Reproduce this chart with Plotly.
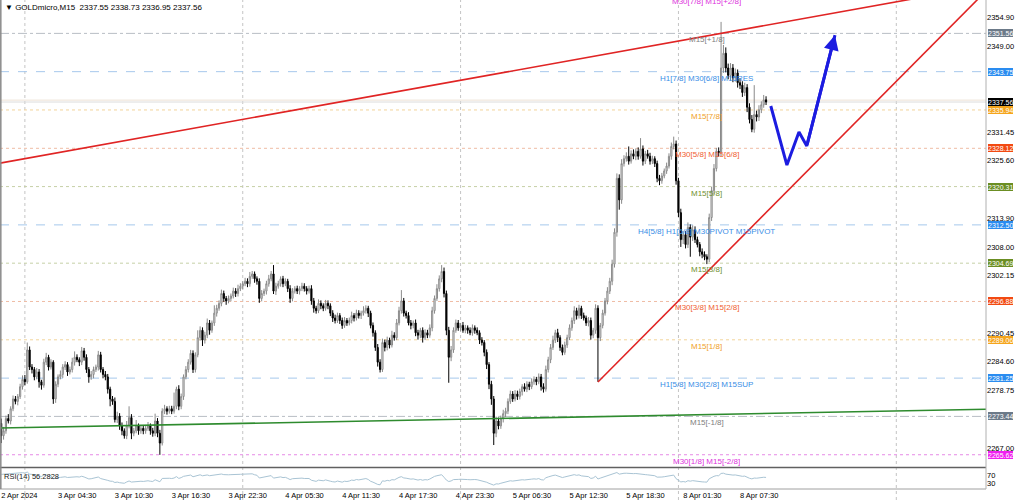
import numpy as np
import plotly.graph_objects as go

# ---------------- data ----------------
first_open = 2272.0
closes = [
    2269.5, 2270.5, 2273.0, 2272.5, 2275.0, 2277.0, 2276.5, 2277.5, 2279.5, 2281.0, 2280.5, 2287.0,
    2283.5, 2283.0, 2281.5, 2282.5, 2280.5, 2279.8, 2284.5, 2285.5, 2283.5, 2284.5, 2277.0, 2280.0,
    2281.5, 2282.0, 2283.5, 2284.0, 2282.5, 2283.0, 2284.5, 2285.5, 2285.0, 2284.5, 2286.8, 2285.5,
    2283.0, 2281.5, 2282.0, 2283.0, 2283.5, 2286.0, 2283.0, 2282.0, 2281.5, 2279.0, 2277.0, 2276.5,
    2272.8, 2273.5, 2271.5, 2270.5, 2269.5, 2271.5, 2273.2, 2270.0, 2270.5, 2271.5, 2270.5, 2271.0,
    2270.5, 2271.0, 2271.5, 2270.5, 2270.0, 2272.5, 2270.0, 2268.0, 2274.5, 2275.0, 2274.5, 2275.0,
    2274.5, 2275.5, 2279.0, 2275.5, 2277.5, 2281.5, 2283.0, 2284.5, 2286.3, 2283.0, 2286.0, 2289.5,
    2291.0, 2289.0, 2290.0, 2292.5, 2291.0, 2292.5, 2294.5, 2295.5, 2296.5, 2298.5, 2297.5, 2297.0,
    2297.5, 2298.0, 2299.0, 2298.5, 2299.5, 2300.0, 2300.5, 2301.0, 2300.5, 2302.0, 2302.5, 2301.5,
    2301.0, 2297.5, 2298.5, 2299.0, 2300.5, 2301.5, 2302.5, 2299.0, 2300.0, 2300.5, 2301.5, 2300.5,
    2301.0, 2299.5, 2297.5, 2299.0, 2299.5, 2299.0, 2299.5, 2300.0, 2299.5, 2299.0, 2299.5, 2297.0,
    2295.5, 2295.0, 2296.5, 2296.0, 2295.5, 2296.5, 2296.0, 2294.5, 2293.5, 2293.0, 2294.0, 2293.0,
    2292.0, 2293.0, 2292.5, 2293.0, 2294.0, 2293.5, 2294.5, 2294.0, 2294.5, 2295.0, 2295.5, 2294.5,
    2292.0, 2290.5, 2287.5, 2284.5, 2283.0, 2288.5, 2287.5, 2289.0, 2288.0, 2290.0, 2289.5, 2292.5,
    2295.0, 2297.0, 2294.5, 2294.0, 2292.5, 2292.0, 2292.5, 2290.5, 2290.0, 2291.0, 2289.5, 2290.5,
    2290.0, 2291.5, 2295.0, 2297.5, 2299.5, 2301.5, 2303.0, 2298.5, 2291.0, 2285.5, 2287.0, 2291.0,
    2292.5, 2291.5, 2292.0, 2291.0, 2291.5, 2291.0, 2290.5, 2291.5, 2291.0, 2290.5, 2289.0, 2288.5,
    2286.5, 2284.0, 2280.0, 2277.0, 2270.0, 2272.5, 2271.5, 2273.0, 2274.0, 2274.5, 2276.5, 2278.0,
    2277.0, 2278.0, 2277.5, 2278.5, 2279.5, 2279.0, 2280.0, 2279.5, 2280.5, 2281.0, 2280.5, 2281.5,
    2279.5, 2279.0, 2283.0, 2285.0, 2287.5, 2289.0, 2290.5, 2289.5, 2287.5, 2286.5, 2288.0, 2289.5,
    2291.5, 2293.0, 2295.0, 2294.0, 2295.5, 2294.0, 2293.5, 2292.5, 2293.0, 2290.0, 2291.0, 2295.5,
    2289.5, 2292.0, 2294.5, 2297.0, 2299.0, 2301.0, 2304.5, 2311.0, 2322.0, 2317.6, 2325.0, 2326.0,
    2326.5, 2325.5, 2327.0, 2326.5, 2327.5, 2326.5, 2328.0, 2325.5, 2327.0, 2326.5, 2325.5, 2326.0,
    2325.0, 2322.0, 2321.5, 2322.5, 2323.5, 2324.5, 2326.5, 2328.5, 2329.0, 2321.5, 2315.0, 2309.5,
    2310.5, 2308.5, 2312.0, 2310.0, 2311.5, 2309.5, 2308.5, 2307.0, 2306.5, 2306.0, 2305.5, 2314.0,
    2319.5, 2324.0, 2327.5, 2327.3, 2344.5, 2347.5, 2344.5, 2343.0, 2344.5, 2342.5, 2343.5, 2341.5,
    2341.0, 2339.5, 2340.5, 2336.5, 2334.0, 2332.0, 2335.0, 2334.5, 2336.0, 2337.0, 2338.0, 2337.56,
]
upper_wicks = [
    1.0, 0.8, 0.6, 0.9, 0.5, 0.7, 0.6, 0.5, 0.6, 0.8, 0.9, 1.5,
    0.7, 0.6, 0.5, 0.8, 0.6, 0.4, 0.7, 0.9, 0.5, 0.6, 0.4, 0.6,
    0.5, 0.8, 0.6, 0.7, 0.5, 0.6, 0.9, 1.2, 0.6, 0.5, 0.8, 0.6,
    0.6, 0.5, 0.7, 0.6, 0.5, 0.8, 0.6, 0.5, 0.7, 0.6, 0.5, 0.6,
    0.8, 0.9, 0.6, 0.7, 0.5, 1.0, 2.3, 0.7, 0.6, 1.2, 0.5, 0.6,
    0.5, 0.6, 0.8, 0.5, 0.6, 1.5, 0.6, 0.7, 0.6, 0.8, 0.5, 0.6,
    0.6, 2.8, 0.5, 0.8, 0.6, 0.5, 0.7, 0.6, 0.7, 0.6, 0.5, 1.5,
    0.8, 0.6, 0.7, 0.9, 0.6, 0.5, 1.6, 0.7, 0.6, 0.8, 0.6, 0.5,
    0.6, 0.5, 0.7, 0.6, 0.8, 0.6, 0.5, 0.7, 0.6, 0.9, 0.6, 0.5,
    0.5, 0.6, 0.7, 0.5, 0.6, 0.8, 0.6, 1.8, 0.7, 0.6, 0.5, 0.6,
    0.6, 0.5, 0.7, 0.6, 0.5, 0.6, 0.5, 0.7, 0.6, 0.5, 0.6, 0.7,
    0.6, 0.5, 0.8, 0.6, 0.5, 0.7, 0.6, 0.5, 0.6, 0.7, 0.6, 0.5,
    0.6, 0.7, 0.5, 0.6, 0.8, 0.5, 0.7, 0.6, 0.5, 0.9, 0.6, 0.5,
    0.5, 0.6, 0.5, 0.7, 0.6, 0.8, 0.6, 0.7, 0.5, 0.9, 0.6, 0.8,
    0.8, 2.2, 0.6, 0.5, 0.7, 0.6, 0.5, 0.7, 0.6, 0.5, 0.6, 0.7,
    0.6, 0.7, 0.8, 0.6, 0.9, 0.7, 1.3, 0.8, 0.6, 0.7, 0.8, 0.6,
    0.7, 0.6, 0.5, 0.7, 0.6, 0.5, 0.6, 0.7, 0.5, 0.6, 0.5, 0.6,
    0.5, 0.6, 0.5, 0.7, 0.6, 0.9, 0.7, 0.6, 0.8, 0.7, 0.6, 0.7,
    0.6, 0.8, 0.7, 0.6, 0.5, 0.7, 0.6, 0.5, 0.7, 0.6, 0.5, 0.7,
    0.6, 0.7, 0.8, 0.6, 0.7, 0.9, 0.6, 0.8, 0.5, 0.6, 0.7, 0.6,
    0.7, 0.6, 0.9, 0.6, 0.7, 0.5, 0.6, 0.5, 0.7, 0.6, 0.5, 0.8,
    0.6, 0.5, 0.7, 0.6, 0.8, 0.7, 0.9, 0.8, 1.0, 0.8, 0.9, 0.7,
    0.8, 2.0, 0.7, 0.9, 0.6, 0.8, 2.2, 0.7, 0.6, 0.8, 0.7, 0.6,
    0.5, 0.6, 0.7, 0.6, 0.5, 0.7, 0.6, 0.8, 1.5, 0.7, 0.6, 0.8,
    0.8, 0.7, 1.0, 0.6, 0.9, 0.7, 0.6, 0.5, 0.7, 0.6, 0.5, 0.8,
    0.8, 0.9, 0.7, 0.8, 9.4, 1.7, 1.2, 0.9, 1.0, 0.8, 0.9, 0.7,
    0.9, 0.8, 1.0, 0.7, 0.8, 0.9, 6.0, 0.8, 0.9, 0.7, 1.0, 0.73,
]
lower_wicks = [
    1.5, 0.8, 0.6, 0.5, 0.7, 0.5, 0.6, 0.8, 0.5, 0.6, 0.7, 0.4,
    0.6, 0.8, 0.7, 0.5, 1.2, 0.9, 0.5, 0.6, 0.7, 0.5, 1.0, 0.8,
    0.6, 0.5, 0.7, 0.6, 0.8, 0.5, 0.6, 0.7, 0.5, 0.8, 0.6, 0.7,
    0.7, 1.2, 0.6, 0.8, 0.5, 0.7, 0.6, 0.8, 0.7, 0.9, 1.5, 0.7,
    0.6, 0.7, 0.8, 0.9, 0.6, 0.7, 0.5, 1.2, 0.6, 0.5, 0.8, 0.6,
    0.7, 0.6, 0.5, 0.8, 0.7, 0.6, 0.8, 2.4, 0.5, 0.6, 0.7, 0.5,
    0.6, 0.5, 0.6, 0.8, 0.6, 0.7, 0.5, 0.6, 0.5, 0.7, 0.6, 0.5,
    0.6, 1.2, 0.7, 0.6, 0.9, 0.5, 0.6, 0.7, 0.5, 0.6, 0.7, 0.8,
    0.5, 0.6, 0.5, 0.7, 0.6, 0.5, 0.6, 0.5, 0.7, 0.6, 0.5, 0.8,
    0.7, 0.9, 0.6, 0.5, 0.7, 0.6, 0.5, 0.6, 0.8, 0.5, 0.6, 0.7,
    0.5, 0.7, 0.9, 0.6, 0.5, 0.6, 0.7, 0.5, 0.6, 0.7, 0.5, 0.8,
    0.9, 0.6, 0.5, 0.7, 0.6, 0.5, 0.7, 0.6, 0.8, 0.6, 0.5, 0.7,
    0.7, 0.5, 0.6, 0.5, 0.6, 0.7, 0.5, 0.6, 0.7, 0.5, 0.6, 0.8,
    0.6, 0.8, 0.7, 0.9, 0.6, 0.5, 0.8, 0.6, 0.7, 0.5, 0.6, 0.5,
    0.5, 0.6, 0.7, 0.6, 0.5, 0.8, 0.6, 0.7, 0.9, 0.6, 1.0, 0.5,
    0.6, 0.5, 0.7, 0.6, 0.5, 0.6, 0.7, 0.8, 1.0, 5.2, 0.8, 0.6,
    0.5, 0.6, 0.7, 0.5, 0.6, 0.7, 0.5, 0.6, 0.7, 0.5, 0.8, 0.6,
    0.8, 0.9, 1.0, 1.2, 2.4, 0.8, 0.7, 0.6, 0.8, 0.7, 0.6, 0.5,
    0.6, 0.5, 0.7, 0.6, 0.8, 0.5, 0.6, 0.7, 0.5, 0.6, 0.7, 0.5,
    0.8, 0.7, 0.5, 0.6, 0.7, 0.5, 0.6, 0.9, 0.7, 0.6, 0.5, 0.6,
    0.5, 0.6, 0.7, 0.8, 0.6, 0.7, 0.5, 0.6, 0.7, 0.9, 0.6, 0.7,
    9.0, 0.7, 0.6, 0.5, 0.7, 0.6, 0.8, 0.7, 0.9, 2.0, 0.8, 0.6,
    0.6, 0.7, 0.5, 0.6, 0.8, 0.7, 0.5, 0.9, 0.6, 0.5, 0.7, 0.6,
    0.7, 0.8, 0.9, 0.6, 0.5, 0.6, 0.5, 0.7, 0.6, 0.8, 0.9, 1.5,
    0.9, 0.8, 0.7, 4.0, 0.8, 0.7, 0.6, 0.9, 0.8, 0.7, 1.0, 0.6,
    0.7, 0.8, 0.6, 0.9, 0.8, 1.0, 0.9, 0.8, 1.1, 0.9, 0.8, 1.0,
    0.8, 0.9, 0.7, 1.0, 0.8, 0.6, 0.7, 0.9, 0.8, 0.7, 0.6, 0.61,
]

time_tick_bars = [0, 24, 48, 72, 96, 120, 144, 168, 192, 216, 240, 264, 288, 312]
time_tick_labels = ["2 Apr 2024", "3 Apr 04:30", "3 Apr 10:30", "3 Apr 16:30", "3 Apr 22:30",
                    "4 Apr 05:30", "4 Apr 11:30", "4 Apr 17:30", "4 Apr 23:30", "5 Apr 06:30",
                    "5 Apr 12:30", "5 Apr 18:30", "8 Apr 01:30", "8 Apr 07:30"]
day_start_bars = [10, 102, 194, 286, 378]

price_ticks = [2354.90, 2349.00, 2331.45, 2325.60, 2313.90, 2308.00, 2302.15,
               2290.45, 2284.60, 2278.75, 2267.00]

levels = [2359.37, 2351.56, 2343.75, 2335.94, 2328.12, 2320.31, 2312.50,
          2304.69, 2296.88, 2289.06, 2281.25, 2273.44, 2265.62]
level_labels = ["M30[7/8] M15[+2/8]", "M15[+1/8]", "H1[7/8] M30[6/8] M15RES", "M15[7/8]",
                "M30[5/8] M15[6/8]", "M15[5/8]", "H4[5/8] H1[6/8] M30PIVOT M15PIVOT", "M15[3/8]",
                "M30[3/8] M15[2/8]", "M15[1/8]", "H1[5/8] M30[2/8] M15SUP", "M15[-1/8]",
                "M30[1/8] M15[-2/8]"]
level_kind = ["magenta", "gray", "blue", "orange", "red", "olive", "blue",
              "olive", "red", "orange", "blue", "gray", "magenta"]

last_price = 2337.56
ask_price = 2337.95
ohlc_title = "▼ GOLDmicro,M15  2337.55 2338.73 2336.95 2337.56"
rsi_title = "RSI(14) 56.2828"

upper_trend_x = [-0.5, 385.0]
upper_trend_y = [2325.1, 2358.6]
lower_trend_x = [252.0, 413.0]
lower_trend_y = [2280.46, 2358.8]
green_trend_x = [-0.5, 416.0]
green_trend_y = [2271.07, 2274.9]
path_x = [325.0, 331.8, 336.9, 340.2, 352.1]
path_y = [2336.75, 2324.7, 2331.45, 2328.6, 2351.2]
marker_x = [325.0]
marker_y = [2358.6]

# ---------------- styles ----------------
FONT = "Liberation Sans, Arial, sans-serif"
W, H = 1024, 500
PLOT_RIGHT = 986
MAIN_BOTTOM = 467
RSI_TOP, RSI_BOTTOM = 469, 489
label_col = {"magenta": "#dd33dd", "gray": "#808080", "blue": "#3a8ee6",
             "orange": "#f0a028", "red": "#f06030", "olive": "#6f9030"}
box_col = {"magenta": "#f020f0", "gray": "#6c7a89", "blue": "#2a8cf0",
           "orange": "#f5a51c", "red": "#f24a12", "olive": "#6b8e23"}
line_col = {"magenta": "#e68ae6", "gray": "#b8bec4", "blue": "#a6c8ec",
            "orange": "#f2d49a", "red": "#efbca4", "olive": "#c6d0a6"}
line_dash = {"magenta": "dot", "gray": "dashdot", "blue": "dash",
             "orange": "dot", "red": "dot", "olive": "dot"}

bars = list(range(len(closes)))
opens = [first_open] + closes[:-1]
highs = [max(o, c) + u for o, c, u in zip(opens, closes, upper_wicks)]
lows = [min(o, c) - l for o, c, l in zip(opens, closes, lower_wicks)]

# RSI(14), Wilder smoothing of the closes
c_arr = np.array(closes)
d = np.diff(c_arr)
g = np.clip(d, 0, None)
l_ = np.clip(-d, 0, None)
avg_g = g[:14].mean()
avg_l = l_[:14].mean()
rsi = [100 - 100 / (1 + avg_g / avg_l)]
for gi, li in zip(g, l_):
    avg_g = (avg_g * 13 + gi) / 14
    avg_l = (avg_l * 13 + li) / 14
    rsi.append(100 - 100 / (1 + avg_g / avg_l) if avg_l > 0 else 100)

x_px0 = 1.2
px_per_bar = 2.368
x_range = [(0 - x_px0) / px_per_bar, (PLOT_RIGHT - x_px0) / px_per_bar]
px_per_price = 4.903
y_top = 2354.90 + 17 / px_per_price
y_range = [y_top - MAIN_BOTTOM / px_per_price, y_top]
main_dom = [1 - MAIN_BOTTOM / H, 1]


def price_to_paper(p):
    return main_dom[0] + (p - y_range[0]) / (y_range[1] - y_range[0]) * (main_dom[1] - main_dom[0])


fig = go.Figure()
fig.add_trace(go.Candlestick(
    x=bars, open=opens, high=highs, low=lows, close=closes,
    increasing=dict(line=dict(color="#8a8a8a", width=1), fillcolor="#ffffff"),
    decreasing=dict(line=dict(color="#000000", width=1), fillcolor="#000000"),
    whiskerwidth=0, showlegend=False, hoverinfo="skip", xaxis="x", yaxis="y"))

for tx, ty, col in [(upper_trend_x, upper_trend_y, "#e02424"),
                    (lower_trend_x, lower_trend_y, "#e02424"),
                    (green_trend_x, green_trend_y, "#2e8b2e")]:
    fig.add_trace(go.Scatter(x=tx, y=ty, mode="lines", line=dict(color=col, width=1.6),
                             showlegend=False, hoverinfo="skip", xaxis="x", yaxis="y"))

fig.add_trace(go.Scatter(x=path_x, y=path_y, mode="lines",
                         line=dict(color="#1c1ce0", width=3), showlegend=False,
                         hoverinfo="skip", xaxis="x", yaxis="y"))
fig.add_trace(go.Scatter(x=marker_x, y=marker_y, mode="markers",
                         marker=dict(symbol="diamond", size=9, color="#a8a8a8"),
                         cliponaxis=False, showlegend=False, hoverinfo="skip",
                         xaxis="x", yaxis="y"))

fig.add_trace(go.Scatter(x=bars, y=rsi, mode="lines", line=dict(color="#a9c4d4", width=1),
                         showlegend=False, hoverinfo="skip", xaxis="x2", yaxis="y2"))

shapes = []
annotations = []
xr = PLOT_RIGHT / W
for b in day_start_bars:
    shapes.append(dict(type="line", xref="x", yref="paper", x0=b, x1=b, y0=0, y1=1,
                       line=dict(color="#c4c4c4", width=1, dash="dot"), layer="below"))
for lv, txt, kind in zip(levels, level_labels, level_kind):
    if lv < y_top:
        shapes.append(dict(type="line", xref="paper", yref="y", x0=0, x1=xr, y0=lv, y1=lv,
                           line=dict(color=line_col[kind], width=1, dash=line_dash[kind]),
                           layer="below"))
        annotations.append(dict(xref="paper", yref="y", x=(PLOT_RIGHT + 2) / W, y=lv,
                                xanchor="left", yanchor="middle", text=f"{lv:.2f}",
                                showarrow=False, bgcolor=box_col[kind], borderpad=0,
                                borderwidth=0, height=8,
                                font=dict(family=FONT, size=7, color="white")))
    annotations.append(dict(xref="x", yref="paper", x=298, y=price_to_paper(lv),
                            xanchor="center", yanchor="top", text=txt, showarrow=False,
                            font=dict(family=FONT, size=8, color=label_col[kind])))

shapes.append(dict(type="line", xref="paper", yref="y", x0=0, x1=xr, y0=ask_price, y1=ask_price,
                   line=dict(color="#eee2d6", width=1), layer="below"))
shapes.append(dict(type="line", xref="paper", yref="y", x0=0, x1=xr, y0=last_price, y1=last_price,
                   line=dict(color="#dcdcdc", width=1), layer="below"))
annotations.append(dict(xref="paper", yref="y", x=(PLOT_RIGHT + 2) / W, y=last_price,
                        xanchor="left", yanchor="middle", text=f"{last_price:.2f}",
                        showarrow=False, bgcolor="#000000", borderpad=0, borderwidth=0,
                        height=8, font=dict(family=FONT, size=7, color="white")))

# frame lines
sep_y = 1 - (MAIN_BOTTOM + 0.5) / H
shapes += [
    dict(type="line", xref="paper", yref="paper", x0=0, x1=xr, y0=sep_y, y1=sep_y,
         line=dict(color="#606060", width=1.5)),
    dict(type="line", xref="paper", yref="paper", x0=0, x1=xr,
         y0=1 - RSI_BOTTOM / H, y1=1 - RSI_BOTTOM / H, line=dict(color="#a0a0a0", width=1)),
    dict(type="line", xref="paper", yref="paper", x0=xr, x1=xr, y0=1 - RSI_BOTTOM / H, y1=1,
         line=dict(color="#b0b0b0", width=1)),
    dict(type="line", xref="paper", yref="paper", x0=0.0008, x1=0.0008, y0=1 - RSI_BOTTOM / H, y1=1,
         line=dict(color="#8a8a8a", width=1.5)),
]

annotations.append(dict(xref="x", yref="y", x=path_x[-1], y=path_y[-1], axref="x", ayref="y",
                        ax=path_x[-2], ay=path_y[-2], showarrow=True, arrowhead=2, arrowsize=1,
                        arrowwidth=3, arrowcolor="#1c1ce0", text=""))
annotations.append(dict(xref="paper", yref="paper", x=3 / W, y=1 - 1 / H, xanchor="left",
                        yanchor="top", text=ohlc_title, showarrow=False,
                        font=dict(family=FONT, size=8, color="#000000")))
annotations.append(dict(xref="paper", yref="paper", x=2 / W, y=1 - (RSI_TOP + 0.5) / H,
                        xanchor="left", yanchor="top", text=rsi_title, showarrow=False,
                        font=dict(family=FONT, size=7.5, color="#202020")))

fig.update_layout(
    width=W, height=H, margin=dict(l=0, r=0, t=0, b=0),
    paper_bgcolor="white", plot_bgcolor="white", showlegend=False,
    font=dict(family=FONT, size=8, color="#000000"),
    shapes=shapes, annotations=annotations,
    xaxis=dict(domain=[0, xr], range=x_range, anchor="y", showticklabels=False,
               showgrid=False, zeroline=False, rangeslider=dict(visible=False)),
    yaxis=dict(domain=main_dom, range=y_range, side="right", anchor="x",
               tickvals=price_ticks, ticktext=[f"{v:.2f}" for v in price_ticks],
               tickfont=dict(family=FONT, size=7.5, color="#000000"),
               showgrid=False, zeroline=False, ticks=""),
    xaxis2=dict(domain=[0, xr], range=x_range, anchor="y2", matches="x",
                tickvals=time_tick_bars, ticktext=time_tick_labels,
                ticklabelposition="outside right", ticks="",
                tickfont=dict(family=FONT, size=7.5, color="#000000"),
                showgrid=False, zeroline=False),
    yaxis2=dict(domain=[1 - RSI_BOTTOM / H, 1 - RSI_TOP / H], range=[0, 100], side="right",
                anchor="x2", tickvals=[70, 30], ticktext=["70", "30"],
                tickfont=dict(family=FONT, size=7.5, color="#000000"),
                showgrid=False, zeroline=False, ticks=""),
)

fig.write_html("out.html", config={"displayModeBar": False},
               post_script="document.body.style.margin='0';document.body.style.overflow='hidden';")
